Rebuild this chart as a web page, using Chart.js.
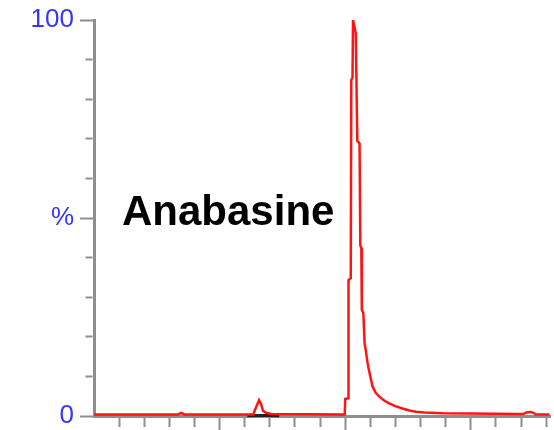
<!DOCTYPE html>
<html>
<head>
<meta charset="utf-8">
<script src="https://cdn.jsdelivr.net/npm/chart.js@4.4.1/dist/chart.umd.min.js"></script>
<style>
  html, body { margin: 0; padding: 0; background: #fff; }
  canvas { display: block; }
</style>
</head>
<body>
<canvas id="chrom" width="554" height="430"></canvas>
<script>
// retention time (min) / relative intensity (%) for the anabasine channel
const times = [
  0.000, 0.335, 0.347, 0.359, 0.634, 0.645, 0.657, 0.665, 0.673, 0.685, 0.705,
  0.998, 1.000, 1.011, 1.013, 1.022, 1.024, 1.029, 1.031, 1.042, 1.048, 1.057,
  1.060, 1.064, 1.066, 1.072, 1.077, 1.082, 1.089, 1.098, 1.109, 1.122, 1.136,
  1.155, 1.175, 1.199, 1.228, 1.255, 1.282, 1.315, 1.387, 1.494, 1.685, 1.709,
  1.721, 1.737, 1.749, 1.757, 1.813
];
const intensity = [
  0.4, 0.4, 0.8, 0.4, 0.4, 2.2, 4.0, 3.0, 1.3, 0.8, 0.5,
  0.4, 4.3, 4.5, 34.3, 34.8, 84.8, 85.5, 100, 96.6, 69.5, 68.8,
  43.0, 42.5, 26.8, 26.0, 18.4, 16.5, 13.3, 10.5, 7.4, 5.8, 4.9,
  3.9, 3.2, 2.5, 1.9, 1.4, 1.1, 0.9, 0.7, 0.6, 0.5, 0.5,
  0.9, 1.0, 0.8, 0.45, 0.4
];

// short piece of the second (black) channel sitting on the baseline
const traceTimes = [0.610, 0.650, 0.690, 0.737];
const traceIntensity = [0.05, 0.15, 0.1, 0.05];

const peakName = 'Anabasine';
const yTickText = { 0: '0', 50: '%', 100: '100' };

const GREY = '#8e8e8e';
const BLUE = '#3535ff';

const isMajorY = v => v % 50 === 0;
const isMajorX = v => Math.abs(v * 2 - Math.round(v * 2)) < 1e-6;

// compound name written inside the plot
const nameLabel = {
  id: 'nameLabel',
  afterDraw(chart) {
    const c = chart.ctx;
    c.save();
    c.font = 'bold 42px Arial, "Liberation Sans", sans-serif';
    c.fillStyle = '#000';
    c.textBaseline = 'alphabetic';
    c.fillText(peakName, 122, 225);
    c.restore();
  }
};

new Chart(document.getElementById('chrom'), {
  type: 'line',
  data: {
    datasets: [
      {
        data: times.map((t, i) => ({ x: t, y: intensity[i] })),
        borderColor: '#ff1414',
        borderWidth: 2.5,
        pointRadius: 0,
        tension: 0,
        fill: false,
        order: 0
      },
      {
        data: traceTimes.map((t, i) => ({ x: t, y: traceIntensity[i] })),
        borderColor: '#222',
        borderWidth: 3,
        pointRadius: 0,
        tension: 0,
        fill: false,
        clip: false,
        order: 1
      }
    ]
  },
  options: {
    responsive: false,
    animation: false,
    layout: { padding: { top: 20, right: 4, left: 0, bottom: 0 } },
    plugins: { legend: { display: false }, tooltip: { enabled: false } },
    scales: {
      x: {
        type: 'linear',
        min: 0,
        max: 1.815,
        ticks: {
          stepSize: 0.1,
          includeBounds: false,
          autoSkip: false,
          padding: 0,
          callback: () => ''
        },
        grid: {
          drawOnChartArea: false,
          drawTicks: true,
          tickLength: 14,
          tickWidth: 2,
          tickColor: ctx => ctx.tick && ctx.tick.value === 0 ? 'rgba(0,0,0,0)' : GREY,
          tickBorderDash: ctx => ctx.tick && isMajorX(ctx.tick.value) ? [] : [9, 100]
        },
        border: { color: GREY, width: 3 },
        afterFit: s => { s.height = 14; }
      },
      y: {
        min: 0,
        max: 100,
        ticks: {
          stepSize: 10,
          autoSkip: false,
          padding: 6,
          color: BLUE,
          font: { family: 'Arial, "Liberation Sans", sans-serif', size: 26, lineHeight: 1 },
          callback: v => yTickText[v] ?? ''
        },
        grid: {
          drawOnChartArea: false,
          drawTicks: true,
          tickLength: 14,
          tickWidth: 2,
          tickColor: GREY,
          tickBorderDash: ctx => ctx.tick && isMajorY(ctx.tick.value) ? [] : [7, 100],
          tickBorderDashOffset: ctx => ctx.tick && isMajorY(ctx.tick.value) ? 0 : 101.5
        },
        border: { color: GREY, width: 3 },
        // labels may hang past the plot edges; keep the plot area fixed
        afterFit: s => {
          s.width = 94;
          s.paddingTop = 0;
          s.paddingBottom = 0;
        }
      }
    }
  },
  plugins: [nameLabel]
});
</script>
</body>
</html>
